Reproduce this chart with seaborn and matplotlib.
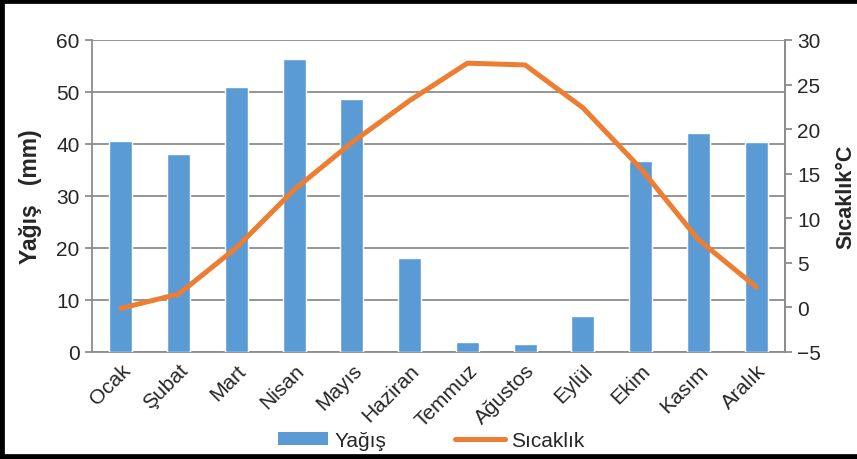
import numpy as np
import pandas as pd
import matplotlib
matplotlib.use("Agg")
import matplotlib.pyplot as plt
from matplotlib.patches import Patch, Rectangle
from matplotlib.lines import Line2D
import seaborn as sns

months = ["Ocak", "Şubat", "Mart", "Nisan", "Mayıs", "Haziran",
          "Temmuz", "Ağustos", "Eylül", "Ekim", "Kasım", "Aralık"]
rain_mm = [40.5, 38.0, 51.0, 56.4, 48.7, 18.0, 2.0, 1.6, 7.0, 36.8, 42.2, 40.3]
temp_c = [-0.1, 1.5, 6.7, 13.2, 18.5, 23.2, 27.4, 27.2, 22.4, 15.6, 7.6, 2.3]
left_ticks = [0, 10, 20, 30, 40, 50, 60]
right_ticks = [-5, 0, 5, 10, 15, 20, 25, 30]

BLUE = "#5B9BD5"
ORANGE = "#ED7D31"
GRID = "#8C8C8C"
TICK_FS = 15
LABEL_FS = 15.5

sns.set_theme(style="white")
plt.rcParams["font.family"] = ["Liberation Sans", "DejaVu Sans"]

df = pd.DataFrame({"Ay": months, "Yağış": rain_mm, "Sıcaklık": temp_c,
                   "pos": np.arange(len(months))})

fig = plt.figure(figsize=(8.57, 4.60), dpi=100)
ax = fig.add_axes([92 / 857, 1 - 353 / 460, (785 - 92) / 857, (353 - 41) / 460])

sns.barplot(data=df, x="Ay", y="Yağış", color=BLUE, width=0.4,
            saturation=1, ax=ax, zorder=3)
ax.set_xlim(-0.5, len(months) - 0.5)
ax.set_ylim(0, 60)
ax.set_yticks(left_ticks)
ax.yaxis.grid(True, color=GRID, linewidth=1.3, zorder=0)
ax.set_axisbelow(True)
ax.set_xlabel("")
ax.set_ylabel("Yağış   (mm)", fontsize=16.5, fontweight="bold",
              labelpad=10)

# month labels at bar centres, tick marks at category boundaries
ax.set_xticks(np.arange(len(months)))
ax.set_xticklabels(months, rotation=45, ha="right", rotation_mode="anchor",
                   fontsize=TICK_FS)
ax.tick_params(axis="x", which="major", length=0, pad=6)
ax.set_xticks(np.arange(-0.5, len(months)), minor=True)
ax.tick_params(axis="x", which="minor", length=5, width=1.3, color=GRID,
               direction="out")
ax.tick_params(axis="y", length=5, width=1.3, color=GRID, direction="out",
               labelsize=TICK_FS, pad=4)

for side in ["left", "bottom", "right"]:
    ax.spines[side].set_visible(True)
    ax.spines[side].set_color(GRID)
    ax.spines[side].set_linewidth(1.3)
ax.spines["top"].set_visible(False)

ax2 = ax.twinx()
sns.lineplot(data=df, x="pos", y="Sıcaklık", color=ORANGE, linewidth=3.6,
             ax=ax2, zorder=4, solid_capstyle="round")
ax2.set_ylim(-5, 30)
ax2.set_yticks(right_ticks)
ax2.set_xlim(-0.5, len(months) - 0.5)
ax2.set_ylabel("Sıcaklık°C", fontsize=LABEL_FS, fontweight="bold", labelpad=10)
ax2.tick_params(axis="y", length=5, width=1.3, color=GRID, direction="out",
                labelsize=TICK_FS, pad=4)
for side in ["left", "top", "bottom"]:
    ax2.spines[side].set_visible(False)
ax2.spines["right"].set_color(GRID)
ax2.spines["right"].set_linewidth(1.3)
ax2.grid(False)

handles = [Patch(facecolor=BLUE, edgecolor="none"),
           Line2D([], [], color=ORANGE, linewidth=3.6, solid_capstyle="round")]
fig.legend(handles, ["Yağış", "Sıcaklık"], loc="center",
           bbox_to_anchor=(0.503, 0.04), ncol=2, frameon=False,
           fontsize=TICK_FS, handlelength=2.4, handleheight=0.55,
           columnspacing=3.3, handletextpad=0.3)

# black frame around the chart
fig.patches.append(Rectangle((0.0, 0.0), 1.05, 1.0, transform=fig.transFigure,
                             fill=False, edgecolor="black", linewidth=7,
                             zorder=10))

fig.savefig("out.png", dpi=100)
